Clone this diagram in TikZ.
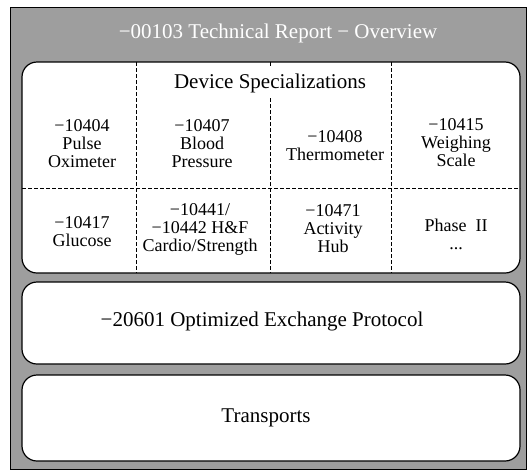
\documentclass[tikz,border=0pt]{standalone}
\usepackage{fontspec}
\setmainfont{Liberation Serif}
\begin{document}
\begin{tikzpicture}[x=1pt,y=-1pt,
  outerbg/.style={draw=black,line width=0.8pt,fill=black!38},
  panel/.style={draw=black,line width=1.2pt,fill=white,rounded corners=15pt,inner sep=0pt},
  grid/.style={draw=black,line width=0.8pt,dash pattern=on 3.5pt off 2.5pt},
  cell/.style={align=center,font=\fontsize{18}{18}\selectfont,inner sep=1pt},
  bigtext/.style={font=\fontsize{21}{26}\selectfont,inner sep=1pt},
  hdrtext/.style={font=\fontsize{21}{24}\selectfont,text=white,inner sep=1pt}
]
\useasboundingbox (0,0) rectangle (529,469);
\draw[outerbg] (10,7) rectangle (526,469);
\node[hdrtext] (hdr) at (278,33) {−00103 Technical Report − Overview};

% panels
\node[panel,minimum width=498pt,minimum height=211pt] (dev) at (271,167.5) {};
\node[panel,minimum width=498pt,minimum height=82pt] (oxp) at (271,323) {};
\node[panel,minimum width=498pt,minimum height=86pt] (trn) at (271,418) {};

% grid
\draw[grid] (136,62) -- (136,273);
\draw[grid] (270,62) -- (270,273);
\draw[grid] (391,62) -- (391,273);
\draw[grid] (22,188) -- (520,188);

\node[fill=white,font=\fontsize{21}{24}\selectfont,minimum height=30pt,inner sep=2pt] (title) at (270,83) {Device Specializations};

% row 1
\node[cell] (c1) at (82,144) {−10404\\Pulse\\Oximeter};
\node[cell] (c2) at (202,144) {−10407\\Blood\\Pressure};
\node[cell] (c3) at (335,146) {−10408\\Thermometer};
\node[cell] (c4) at (456,143) {−10415\\Weighing\\Scale};
% row 2
\node[cell] (c5) at (82,232) {−10417\\Glucose};
\node[cell] (c6) at (200,229) {−10441/\\−10442 H\&F\\Cardio/Strength};
\node[cell] (c7) at (333,229) {−10471\\Activity\\Hub};
\node[cell] (c8) at (456,234) {Phase~~II\\...};

\node[bigtext] (oxt) at (262,321) {−20601 Optimized Exchange Protocol};
\node[bigtext] (trt) at (266,418) {Transports};
\end{tikzpicture}
\end{document}
